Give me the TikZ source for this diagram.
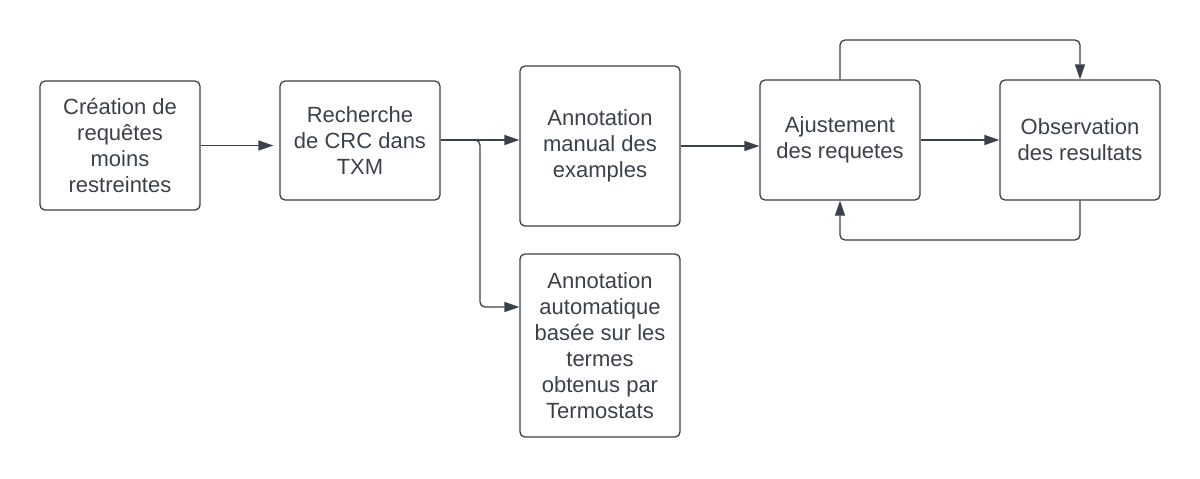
\documentclass[tikz,border=0pt]{standalone}
\usepackage{fontspec}
\setmainfont{Liberation Sans}
\usetikzlibrary{arrows.meta}
\definecolor{inkgray}{HTML}{3A414A}

\begin{document}
\begin{tikzpicture}[x=0.5pt,y=-0.5pt]
\tikzstyle{every node}=[font=\fontsize{11}{13}\selectfont,text=inkgray]
\tikzstyle{stage}=[draw=inkgray,line width=0.65pt,rounded corners=2.5pt,align=center,minimum width=80pt,inner sep=0pt]
\tikzstyle{link}=[draw=inkgray,line width=0.65pt,rounded corners=2.5pt,-{Triangle[length=7.5pt,width=5pt]}]
\useasboundingbox (0,0) rectangle (1200,478);
\node[stage,minimum height=64.5pt] (creation) at (120,145.5) {Création de\\requêtes\\moins\\restreintes};
\node[stage,minimum height=59.5pt] (recherche) at (360,140.5) {Recherche\\de CRC dans\\TXM};
\node[stage,minimum height=80pt] (manual) at (600,146) {Annotation\\manual des\\examples};
\node[stage,minimum height=91.5pt] (auto) at (600,345.5) {Annotation\\automatique\\basée sur les\\termes\\obtenus par\\Termostats};
\node[stage,minimum height=60pt] (ajust) at (840,140) {Ajustement\\des requetes};
\node[stage,minimum height=60pt] (observ) at (1080,140) {Observation\\des resultats};
\coordinate (fork) at (480,140);
\coordinate (branch) at (480,307);
\coordinate (top) at (960,40);
\coordinate (bottom) at (960,240);
% chain
\draw[link,shorten >=3pt] (creation.east) -- (creation.east -| recherche.west);
\draw[link] (recherche.east |- fork) -- (fork -| manual.west);
\draw[link] (recherche.east |- fork) -- (fork) -- (branch) -- (branch -| auto.west);
\draw[link] (manual.east) -- (manual.east -| ajust.west);
\draw[link] (ajust.east) -- (observ.west);
% loop
\draw[link] (ajust.north) |- (top) -| (observ.north);
\draw[link] (observ.south) |- (bottom) -| (ajust.south);
\end{tikzpicture}
\end{document}
